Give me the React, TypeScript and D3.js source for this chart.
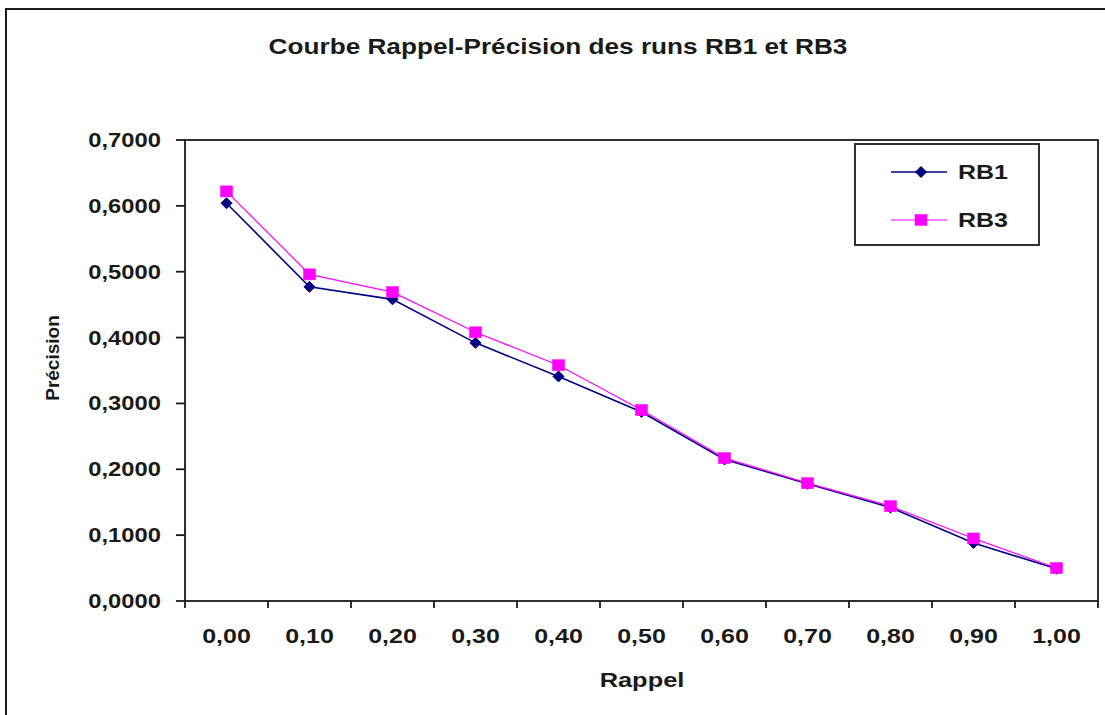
import React from "react";
import * as d3 from "d3";

const title = "Courbe Rappel-Précision des runs RB1 et RB3";
const xLabels = ["0,00", "0,10", "0,20", "0,30", "0,40", "0,50", "0,60", "0,70", "0,80", "0,90", "1,00"];
const rb1 = [0.604, 0.477, 0.458, 0.392, 0.341, 0.287, 0.215, 0.178, 0.142, 0.088, 0.049];
const rb3 = [0.622, 0.496, 0.469, 0.408, 0.358, 0.290, 0.217, 0.179, 0.144, 0.095, 0.050];
const yTicks = [0, 0.1, 0.2, 0.3, 0.4, 0.5, 0.6, 0.7];
const seriesNames = ["RB1", "RB3"];

const FONT = "'Liberation Sans', Arial, sans-serif";
const INK = "#1a1a1a";
const NAVY = "#000080";
const MAGENTA = "#FF00FF";

function Diamond({ x, y, r = 5.5 }: { x: number; y: number; r?: number }) {
  return (
    <path
      d={`M${x},${y - r}L${x + r},${y}L${x},${y + r}L${x - r},${y}Z`}
      fill={NAVY}
      stroke={NAVY}
      strokeWidth={1}
    />
  );
}

function Square({ x, y, w = 12, h = 11 }: { x: number; y: number; w?: number; h?: number }) {
  return <rect x={x - w / 2} y={y - h / 2} width={w} height={h} fill={MAGENTA} stroke={MAGENTA} strokeWidth={0.5} />;
}

export default function App() {
  const left = 185;
  const right = 1098;
  const top = 140;
  const bottom = 601;

  const x = d3.scaleBand<string>().domain(xLabels).range([left, right]).paddingInner(0).paddingOuter(0);
  const y = d3.scaleLinear().domain([0, 0.7]).range([bottom, top]);
  const cx = (i: number) => (x(xLabels[i]) as number) + x.bandwidth() / 2;

  const line = d3
    .line<number>()
    .x((_, i) => cx(i))
    .y((d) => y(d));

  const fmtY = (v: number) => v.toFixed(4).replace(".", ",");
  const boundaries = xLabels.map((l) => x(l) as number).concat([right]);

  return (
    <svg
      width={1105}
      height={715}
      style={{ position: "absolute", left: 0, top: 0, background: "#fff" }}
      fontFamily={FONT}
      fontWeight="bold"
    >
      <rect x={0} y={0} width={1105} height={715} fill="#fff" />
      {/* outer chart frame (cropped at right/bottom) */}
      <rect x={6} y={9} width={1120} height={730} fill="none" stroke={INK} strokeWidth={2} />

      {/* title */}
      <text
        transform={`translate(558,54) scale(1.19,1)`}
        textAnchor="middle"
        fontSize={22}
        fill={INK}
      >
        {title}
      </text>

      {/* plot area frame */}
      <rect x={left} y={top} width={right - left} height={bottom - top} fill="#fff" stroke={INK} strokeWidth={1.8} />

      {/* y ticks */}
      {yTicks.map((t) => (
        <g key={t}>
          <line x1={left - 9} x2={left} y1={y(t)} y2={y(t)} stroke={INK} strokeWidth={1.8} />
          <text
            transform={`translate(161,${y(t) + 7}) scale(1.22,1)`}
            textAnchor="end"
            fontSize={19.5}
            fill={INK}
          >
            {fmtY(t)}
          </text>
        </g>
      ))}

      {/* x ticks */}
      {boundaries.map((b, i) => (
        <line key={i} x1={b} x2={b} y1={bottom} y2={bottom + 7} stroke={INK} strokeWidth={1.8} />
      ))}
      {xLabels.map((l, i) => (
        <text
          key={l}
          transform={`translate(${cx(i)},643) scale(1.25,1)`}
          textAnchor="middle"
          fontSize={20}
          fill={INK}
        >
          {l}
        </text>
      ))}

      {/* axis titles */}
      <text transform={`translate(642,687) scale(1.27,1)`} textAnchor="middle" fontSize={20} fill={INK}>
        Rappel
      </text>
      <text transform={`translate(59,358) rotate(-90)`} textAnchor="middle" fontSize={19} fill={INK}>
        Précision
      </text>

      {/* series lines */}
      <path d={line(rb1) as string} fill="none" stroke={NAVY} strokeWidth={1.6} />
      <path d={line(rb3) as string} fill="none" stroke={MAGENTA} strokeWidth={1.2} />
      {rb1.map((v, i) => (
        <Diamond key={"a" + i} x={cx(i)} y={y(v)} />
      ))}
      {rb3.map((v, i) => (
        <Square key={"b" + i} x={cx(i)} y={y(v)} />
      ))}

      {/* legend */}
      <rect x={855} y={144} width={184} height={101} fill="#fff" stroke={INK} strokeWidth={1.8} />
      <line x1={891} x2={947} y1={172} y2={172} stroke={NAVY} strokeWidth={1.6} />
      <Diamond x={921} y={172} />
      <text transform={`translate(958,179) scale(1.25,1)`} fontSize={20} fill={INK}>
        {seriesNames[0]}
      </text>
      <line x1={891} x2={947} y1={220} y2={220} stroke={MAGENTA} strokeWidth={1.2} />
      <Square x={921} y={220} />
      <text transform={`translate(958,227) scale(1.25,1)`} fontSize={20} fill={INK}>
        {seriesNames[1]}
      </text>
    </svg>
  );
}
